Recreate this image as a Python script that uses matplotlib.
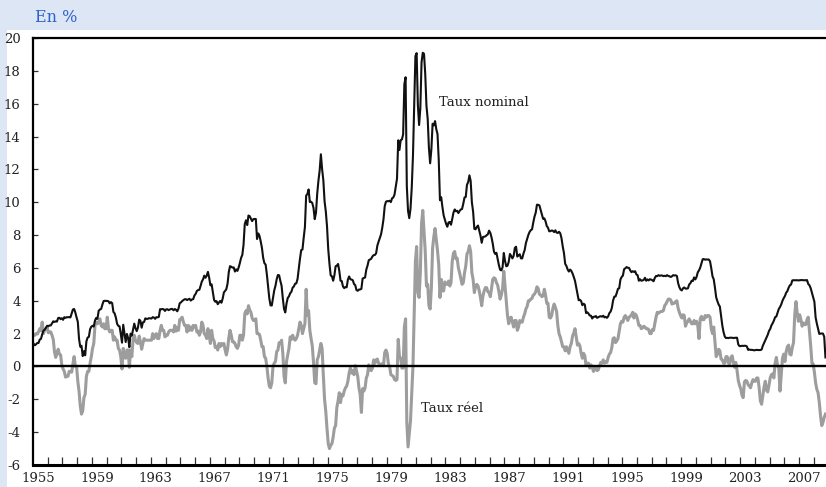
import matplotlib

matplotlib.use("Agg")
import matplotlib.pyplot as plt
import numpy as np
from matplotlib.patches import Rectangle

# Fed funds rate, monthly, Jan 1955 -> Oct 2008 (en %)
nominal = [
    1.39, 1.29, 1.35, 1.43, 1.43, 1.64, 1.68, 1.96, 2.18, 2.24, 2.35, 2.48,  # 1955
    2.45, 2.50, 2.50, 2.62, 2.75, 2.71, 2.75, 2.73, 2.95, 2.96, 2.88, 2.94,  # 1956
    2.84, 3.00, 2.96, 3.00, 3.00, 3.00, 2.99, 3.24, 3.47, 3.50, 3.28, 2.98,  # 1957
    2.72, 1.67, 1.20, 1.26, 0.63, 0.93, 0.68, 1.53, 1.76, 1.80, 2.27, 2.42,  # 1958
    2.48, 2.43, 2.80, 2.96, 2.90, 3.39, 3.47, 3.50, 3.76, 3.98, 4.00, 3.99,  # 1959
    3.99, 3.97, 3.84, 3.92, 3.85, 3.32, 3.23, 2.98, 2.60, 2.47, 2.44, 1.98,  # 1960
    1.45, 2.54, 2.02, 1.49, 1.98, 1.73, 1.17, 2.00, 1.88, 2.26, 2.61, 2.33,  # 1961
    2.15, 2.37, 2.85, 2.78, 2.36, 2.68, 2.71, 2.93, 2.90, 2.90, 2.94, 2.93,  # 1962
    2.92, 3.00, 2.98, 2.90, 3.00, 2.99, 3.02, 3.49, 3.48, 3.50, 3.48, 3.38,  # 1963
    3.48, 3.48, 3.43, 3.47, 3.50, 3.50, 3.42, 3.50, 3.45, 3.36, 3.52, 3.85,  # 1964
    3.90, 3.98, 4.04, 4.09, 4.10, 4.04, 4.09, 4.12, 4.01, 4.08, 4.10, 4.32,  # 1965
    4.42, 4.60, 4.65, 4.67, 4.90, 5.17, 5.30, 5.53, 5.40, 5.53, 5.76, 5.40,  # 1966
    4.94, 5.00, 4.53, 4.05, 3.94, 3.98, 3.79, 3.90, 3.99, 3.88, 4.13, 4.51,  # 1967
    4.60, 4.71, 5.05, 5.76, 6.11, 6.07, 6.02, 6.03, 5.78, 5.91, 5.82, 6.02,  # 1968
    6.30, 6.61, 6.79, 7.41, 8.67, 8.90, 8.61, 9.19, 9.15, 9.00, 8.85, 8.97,  # 1969
    8.98, 8.98, 7.76, 8.10, 7.95, 7.61, 7.21, 6.61, 6.29, 6.20, 5.60, 4.90,  # 1970
    4.14, 3.72, 3.71, 4.16, 4.63, 4.91, 5.31, 5.57, 5.55, 5.20, 4.91, 4.14,  # 1971
    3.50, 3.29, 3.83, 4.17, 4.27, 4.46, 4.55, 4.80, 4.87, 5.04, 5.06, 5.33,  # 1972
    5.94, 6.58, 7.09, 7.12, 7.84, 8.49, 10.40, 10.50, 10.78, 10.01, 10.03, 9.95,  # 1973
    9.65, 8.97, 9.35, 10.51, 11.31, 11.93, 12.92, 12.01, 11.34, 10.06, 9.45, 8.53,  # 1974
    7.13, 6.24, 5.54, 5.49, 5.22, 5.55, 6.10, 6.14, 6.24, 5.82, 5.22, 5.20,  # 1975
    4.87, 4.77, 4.84, 4.82, 5.29, 5.48, 5.31, 5.29, 5.25, 5.02, 4.95, 4.65,  # 1976
    4.61, 4.68, 4.69, 4.73, 5.35, 5.39, 5.42, 5.90, 6.14, 6.47, 6.51, 6.56,  # 1977
    6.70, 6.78, 6.79, 6.89, 7.36, 7.60, 7.81, 8.04, 8.45, 8.96, 9.76, 10.03,  # 1978
    10.07, 10.06, 10.09, 10.01, 10.24, 10.29, 10.47, 10.94, 11.43, 13.77, 13.18, 13.78,  # 1979
    13.82, 14.13, 17.19, 17.61, 10.98, 9.47, 9.03, 9.61, 10.87, 12.81, 15.85, 18.90,  # 1980
    19.08, 15.93, 14.70, 15.72, 18.52, 19.10, 19.04, 17.82, 15.87, 15.08, 13.31, 12.37,  # 1981
    13.22, 14.78, 14.68, 14.94, 14.45, 14.15, 12.59, 10.12, 10.31, 9.71, 9.20, 8.95,  # 1982
    8.68, 8.51, 8.77, 8.80, 8.63, 8.98, 9.37, 9.56, 9.45, 9.48, 9.34, 9.47,  # 1983
    9.56, 9.59, 9.91, 10.29, 10.32, 11.06, 11.23, 11.64, 11.30, 9.99, 9.43, 8.38,  # 1984
    8.35, 8.50, 8.58, 8.27, 7.97, 7.53, 7.88, 7.90, 7.92, 7.99, 8.05, 8.27,  # 1985
    8.14, 7.86, 7.48, 6.99, 6.85, 6.92, 6.56, 6.17, 5.89, 5.85, 6.04, 6.91,  # 1986
    6.43, 6.10, 6.13, 6.37, 6.85, 6.73, 6.58, 6.73, 7.22, 7.29, 6.69, 6.77,  # 1987
    6.83, 6.58, 6.58, 6.87, 7.09, 7.51, 7.75, 8.01, 8.19, 8.30, 8.35, 8.76,  # 1988
    9.12, 9.36, 9.85, 9.84, 9.81, 9.53, 9.24, 8.99, 9.02, 8.84, 8.55, 8.45,  # 1989
    8.23, 8.24, 8.28, 8.26, 8.18, 8.29, 8.15, 8.13, 8.20, 8.11, 7.81, 7.31,  # 1990
    6.91, 6.25, 6.12, 5.91, 5.78, 5.90, 5.82, 5.66, 5.45, 5.21, 4.81, 4.43,  # 1991
    4.03, 4.06, 3.98, 3.73, 3.82, 3.76, 3.25, 3.30, 3.22, 3.10, 3.09, 2.92,  # 1992
    3.02, 3.03, 3.07, 2.96, 3.00, 3.04, 3.06, 3.03, 3.09, 2.99, 3.02, 2.96,  # 1993
    3.05, 3.25, 3.34, 3.56, 4.01, 4.25, 4.26, 4.47, 4.73, 4.76, 5.29, 5.45,  # 1994
    5.53, 5.92, 5.98, 6.05, 6.01, 6.00, 5.85, 5.74, 5.80, 5.76, 5.80, 5.60,  # 1995
    5.56, 5.22, 5.31, 5.22, 5.24, 5.27, 5.40, 5.22, 5.30, 5.24, 5.31, 5.29,  # 1996
    5.25, 5.19, 5.39, 5.51, 5.50, 5.56, 5.52, 5.54, 5.54, 5.50, 5.52, 5.50,  # 1997
    5.56, 5.51, 5.49, 5.45, 5.49, 5.56, 5.54, 5.55, 5.51, 5.07, 4.83, 4.68,  # 1998
    4.63, 4.76, 4.81, 4.74, 4.74, 4.76, 4.99, 5.07, 5.22, 5.20, 5.42, 5.30,  # 1999
    5.45, 5.73, 5.85, 6.02, 6.27, 6.53, 6.54, 6.50, 6.52, 6.51, 6.51, 6.40,  # 2000
    5.98, 5.49, 5.31, 4.80, 4.21, 3.97, 3.77, 3.65, 3.07, 2.49, 2.09, 1.82,  # 2001
    1.73, 1.74, 1.73, 1.75, 1.75, 1.75, 1.73, 1.74, 1.75, 1.75, 1.34, 1.24,  # 2002
    1.24, 1.26, 1.25, 1.26, 1.26, 1.22, 1.01, 1.03, 1.01, 1.01, 1.00, 0.98,  # 2003
    1.00, 1.01, 1.00, 1.00, 1.00, 1.03, 1.26, 1.43, 1.61, 1.76, 1.93, 2.16,  # 2004
    2.28, 2.50, 2.63, 2.79, 3.00, 3.04, 3.26, 3.50, 3.62, 3.78, 4.00, 4.16,  # 2005
    4.29, 4.49, 4.59, 4.79, 4.94, 4.99, 5.24, 5.25, 5.25, 5.25, 5.25, 5.24,  # 2006
    5.25, 5.26, 5.26, 5.25, 5.25, 5.25, 5.26, 5.02, 4.94, 4.76, 4.49, 4.24,  # 2007
    3.94, 2.98, 2.61, 2.28, 1.98, 2.00, 2.01, 2.00, 1.81, 0.55,              # 2008
]

# real rate (nominal deflated by consumer price inflation), same months
real = [
    1.9, 1.9, 2.0, 2.0, 2.1, 2.3, 2.2, 2.7, 2.0, 2.2, 2.3, 2.4,  # 1955
    2.05, 2.1, 2.1, 1.9, 1.65, 0.9, 0.55, 0.8, 1.05, 0.75, 0.7, 0.05,  # 1956
    -0.15, -0.3, -0.65, -0.6, -0.6, -0.3, -0.3, -0.35, 0.15, 0.6, 0.0, 0.0,  # 1957
    -0.9, -1.5, -2.4, -2.9, -2.7, -1.9, -1.7, -0.6, -0.3, -0.3, 0.2, 0.6,  # 1958
    1.1, 1.4, 2.5, 2.7, 2.6, 2.7, 2.9, 2.5, 2.4, 2.6, 2.3, 2.3,  # 1959
    3.0, 2.3, 2.1, 2.2, 2.2, 1.6, 1.8, 1.6, 1.6, 1.1, 1.0, 0.6,  # 1960
    -0.15, 1.1, 0.6, 0.5, 1.0, 1.0, -0.05, 1.0, 0.6, 1.6, 1.9, 1.6,  # 1961
    1.45, 1.4, 1.85, 1.5, 1.05, 1.4, 1.7, 1.6, 1.6, 1.6, 1.6, 1.6,  # 1962
    1.6, 2.0, 1.7, 1.9, 2.0, 1.7, 1.7, 2.2, 2.5, 2.2, 2.2, 1.8,  # 1963
    1.9, 1.9, 2.1, 2.2, 2.2, 2.2, 2.1, 2.5, 2.15, 2.35, 2.2, 2.85,  # 1964
    2.9, 3.0, 2.7, 2.5, 2.5, 2.1, 2.5, 2.2, 2.4, 2.2, 2.5, 2.4,  # 1965
    2.5, 2.1, 2.15, 1.9, 2.1, 2.7, 2.5, 2.0, 1.9, 1.7, 2.3, 1.9,  # 1966
    1.4, 2.2, 1.7, 1.55, 1.15, 1.2, 1.0, 1.4, 1.2, 1.4, 1.3, 1.4,  # 1967
    1.0, 0.7, 1.05, 1.75, 2.2, 1.9, 1.5, 1.5, 1.4, 1.2, 1.1, 1.3,  # 1968
    1.9, 1.9, 1.6, 1.9, 3.2, 3.4, 3.2, 3.7, 3.45, 3.3, 2.95, 2.8,  # 1969
    2.8, 2.9, 2.0, 2.0, 1.95, 1.6, 1.2, 1.2, 0.6, 0.5, 0.0, -0.7,  # 1970
    -1.2, -1.3, -1.0, 0.0, 0.2, 0.3, 0.9, 1.0, 1.45, 1.4, 1.6, 0.8,  # 1971
    -0.6, -1.0, 0.3, 0.7, 1.1, 1.8, 1.65, 1.9, 1.7, 1.6, 1.7, 1.9,  # 1972
    2.3, 2.7, 2.5, 2.0, 2.3, 2.6, 4.7, 3.1, 3.4, 2.2, 1.7, 1.25,  # 1973
    0.25, -1.0, -1.05, 0.4, 0.6, 1.0, 1.4, 1.1, -0.55, -2.0, -2.75, -3.8,  # 1974
    -4.7, -5.0, -4.8, -4.7, -4.3, -3.75, -3.6, -2.5, -2.1, -1.6, -2.2, -1.7,  # 1975
    -1.8, -1.5, -1.3, -1.2, -0.9, -0.4, -0.1, -0.4, -0.25, -0.5, 0.05, -0.25,  # 1976
    -0.6, -1.3, -1.7, -2.8, -1.35, -1.5, -1.3, -0.7, -0.5, 0.1, -0.2, -0.25,  # 1977
    -0.1, 0.4, 0.2, 0.4, 0.45, 0.2, 0.1, 0.15, 0.15, 0.05, 0.85, 1.0,  # 1978
    0.8, 0.15, 0.0, -0.5, -0.55, -0.6, -0.8, -0.85, -0.8, 1.65, 0.6, 0.5,  # 1979
    -0.1, -0.1, 2.4, 2.9, -3.4, -4.9, -4.1, -3.3, -1.7, 0.0, 3.25, 6.4,  # 1980
    7.3, 4.5, 4.2, 5.7, 8.7, 9.5, 8.2, 7.0, 4.9, 5.0, 3.7, 3.5,  # 1981
    4.8, 7.2, 7.9, 8.4, 7.75, 7.05, 6.2, 4.2, 5.3, 4.6, 4.6, 5.15,  # 1982
    5.0, 5.0, 5.2, 4.9, 5.1, 6.4, 6.9, 7.0, 6.55, 6.6, 6.0, 5.7,  # 1983
    5.35, 5.0, 5.1, 5.7, 6.1, 6.85, 7.0, 7.35, 7.0, 5.7, 5.3, 4.5,  # 1984
    4.85, 5.0, 4.9, 4.6, 4.2, 3.7, 4.3, 4.6, 4.8, 4.8, 4.55, 4.5,  # 1985
    4.25, 4.75, 5.3, 5.4, 5.35, 5.1, 4.95, 4.55, 4.1, 4.35, 4.75, 5.8,  # 1986
    4.9, 4.0, 3.1, 2.6, 2.95, 3.0, 2.7, 2.4, 2.8, 2.8, 2.2, 2.4,  # 1987
    2.8, 2.7, 2.7, 3.0, 3.2, 3.5, 3.65, 4.0, 4.0, 4.1, 4.15, 4.35,  # 1988
    4.4, 4.55, 4.85, 4.75, 4.4, 4.35, 4.25, 4.3, 4.7, 4.35, 3.85, 3.85,  # 1989
    3.0, 2.95, 3.1, 3.55, 3.8, 3.6, 3.35, 2.5, 2.0, 1.8, 1.5, 1.2,  # 1990
    1.2, 0.95, 1.2, 1.0, 0.8, 1.2, 1.4, 1.85, 2.05, 2.3, 1.8, 1.3,  # 1991
    1.4, 1.25, 0.8, 0.5, 0.8, 0.65, 0.05, 0.2, 0.2, -0.1, 0.1, 0.0,  # 1992
    -0.3, -0.2, 0.0, -0.25, -0.2, 0.05, 0.25, 0.2, 0.4, 0.2, 0.3, 0.25,  # 1993
    0.55, 0.75, 0.85, 1.15, 1.7, 1.75, 1.45, 1.55, 1.7, 2.15, 2.6, 2.75,  # 1994
    2.7, 3.0, 3.1, 2.95, 2.8, 3.0, 3.05, 3.15, 3.3, 2.95, 3.2, 3.1,  # 1995
    2.85, 2.5, 2.5, 2.3, 2.35, 2.45, 2.4, 2.3, 2.3, 2.25, 2.0, 2.0,  # 1996
    2.25, 2.2, 2.6, 3.0, 3.3, 3.25, 3.3, 3.35, 3.35, 3.4, 3.7, 3.8,  # 1997
    3.95, 4.1, 4.1, 4.05, 3.8, 3.85, 3.85, 3.95, 4.0, 3.55, 3.3, 3.1,  # 1998
    2.95, 3.15, 3.1, 2.45, 2.65, 2.75, 2.9, 2.75, 2.6, 2.6, 2.8, 2.6,  # 1999
    2.75, 2.5, 1.7, 2.9, 3.05, 2.85, 2.85, 3.1, 3.0, 3.1, 3.1, 3.0,  # 2000
    2.3, 2.0, 2.4, 1.5, 0.6, 0.75, 1.05, 0.95, 0.45, 0.4, 0.2, 0.2,  # 2001
    0.6, 0.6, 0.2, 0.15, 0.55, 0.65, 0.25, -0.05, 0.25, -0.25, -0.85, -1.15,  # 2002
    -1.35, -1.75, -1.9, -0.95, -0.85, -0.9, -1.1, -1.2, -1.3, -1.0, -0.8, -0.9,  # 2003
    -0.9, -0.7, -0.7, -1.3, -2.1, -2.3, -1.75, -1.25, -0.9, -1.45, -1.55, -1.15,  # 2004
    -0.7, -0.5, -0.45, -0.7, 0.2, 0.55, 0.05, -0.1, -1.5, -0.5, 0.5, 0.75,  # 2005
    0.3, 0.9, 1.2, 1.3, 0.75, 0.7, 1.15, 1.45, 3.15, 3.95, 3.25, 2.75,  # 2006
    3.15, 2.85, 2.45, 2.65, 2.55, 2.55, 2.85, 3.0, 2.15, 1.25, 0.2, 0.15,  # 2007
    -0.35, -1.0, -1.4, -1.6, -2.2, -3.0, -3.6, -3.4, -3.1, -2.9,  # 2008
]

start_year = 1955
label_years = list(range(1955, 2008, 4))
y_ticks = list(range(-6, 21, 2))

BG = "#dce6f5"
INK = "#222222"
FONT = "DejaVu Serif"

plt.rcParams["axes.unicode_minus"] = False

months = np.arange(len(nominal))

fig = plt.figure(figsize=(8.26, 4.87), dpi=100, facecolor=BG)
# white panel, light blue band on top and thin strip on the left
fig.patches.append(Rectangle((7 / 826, 0), 1, (487 - 30) / 487,
                             transform=fig.transFigure, facecolor="white",
                             edgecolor="none", zorder=-10))
fig.text(35 / 826, 1 - 18 / 487, "En %", color="#2f62c9", fontsize=11.5,
         family=FONT, va="center", ha="left")

ax = fig.add_axes([33 / 826, 22 / 487, 1.002 - 33 / 826, 427 / 487])
ax.set_facecolor("none")

ax.plot(months, real, color="#9d9d9d", lw=2.2, zorder=2)
ax.plot(months, nominal, color="#111111", lw=1.5, zorder=3)
ax.axhline(0, color="black", lw=1.7, zorder=4)

ax.set_xlim(-0.5, 646.8)
ax.set_ylim(-6, 20)

ax.spines["right"].set_visible(False)
ax.spines["left"].set_linewidth(1.6)
ax.spines["top"].set_linewidth(1.6)
ax.spines["bottom"].set_linewidth(2.2)

# yearly tick marks, labels every 4 years
ax.set_xticks([12 * k - 0.5 for k in range(1, 54)], minor=True)
ax.set_xticks([(y - start_year) * 12 + 3.5 for y in label_years])
ax.set_xticklabels([str(y) for y in label_years])
ax.tick_params(axis="x", which="minor", direction="in", length=5.5,
               width=0.9, color="#333333")
ax.tick_params(axis="x", which="major", length=0, pad=5, labelsize=9.5,
               labelcolor=INK)

ax.set_yticks(y_ticks)
ax.tick_params(axis="y", direction="in", length=3.5, width=0.9, color="#333333",
               pad=9, labelsize=9.5, labelcolor=INK)
for lab in ax.get_xticklabels() + ax.get_yticklabels():
    lab.set_family(FONT)

ax.text(330, 16.1, "Taux nominal", fontsize=9.5, family=FONT, color=INK,
        va="center", ha="left")
ax.text(315.5, -2.55, "Taux réel", fontsize=9.5, family=FONT, color=INK,
        va="center", ha="left")

fig.savefig("out.png", dpi=100, facecolor=BG)
